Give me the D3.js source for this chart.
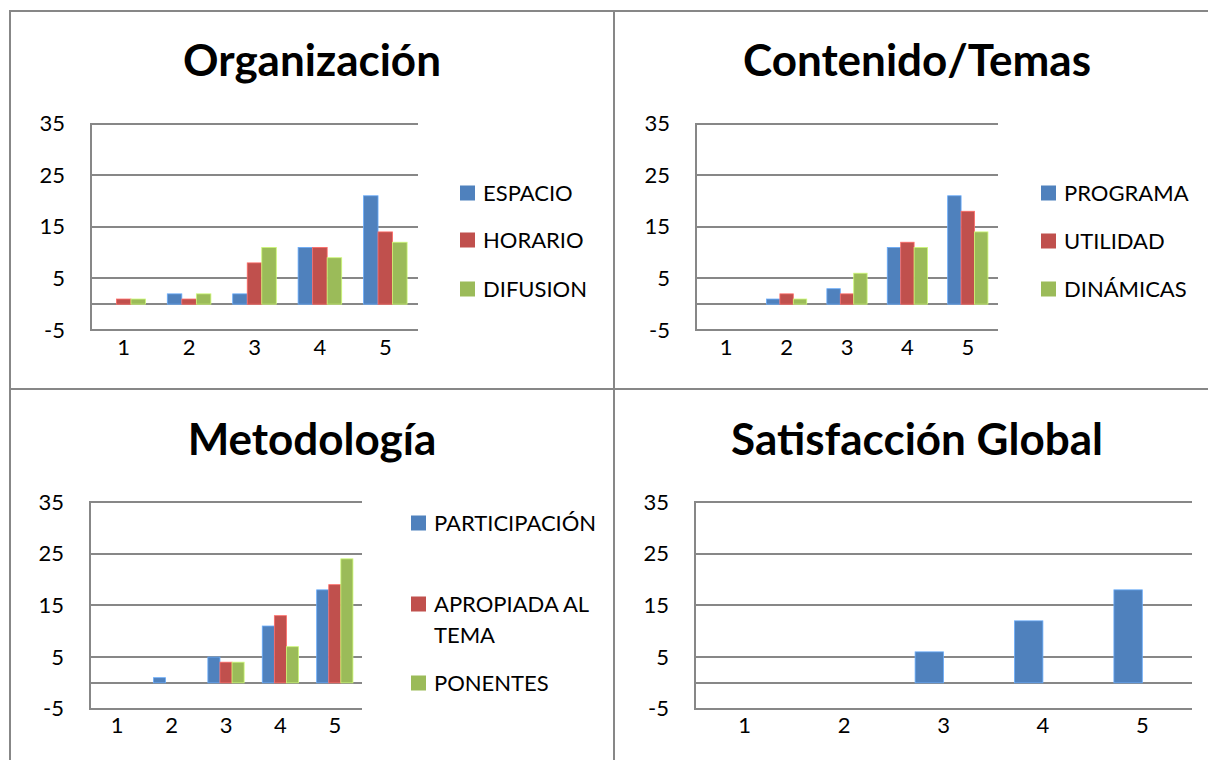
<!DOCTYPE html>
<html>
<head>
<meta charset="utf-8">
<script src="https://cdn.jsdelivr.net/npm/d3@7/dist/d3.min.js"></script>
<style>
  body { margin: 0; background: #fff; }
  svg { display: block; font-family: Lato, "Open Sans", sans-serif; }
</style>
</head>
<body>
<div id="chart"></div>
<script>
// categories and ticks shared by all four charts
var categories = ["1", "2", "3", "4", "5"];
var yTicks = [-5, 5, 15, 25, 35];
var colors = ["#4F81BD", "#C0504D", "#9BBB59"];

// Organización
var orgNames = ["ESPACIO", "HORARIO", "DIFUSION"];
var orgEspacio = [0, 2, 2, 11, 21];
var orgHorario = [1, 1, 8, 11, 14];
var orgDifusion = [1, 2, 11, 9, 12];

// Contenido/Temas
var temNames = ["PROGRAMA", "UTILIDAD", "DINÁMICAS"];
var temPrograma = [0, 1, 3, 11, 21];
var temUtilidad = [0, 2, 2, 12, 18];
var temDinamicas = [0, 1, 6, 11, 14];

// Metodología
var metNames = [["PARTICIPACIÓN"], ["APROPIADA AL", "TEMA"], ["PONENTES"]];
var metParticipacion = [0, 1, 5, 11, 18];
var metApropiada = [0, 0, 4, 13, 19];
var metPonentes = [0, 0, 4, 7, 24];

// Satisfacción Global (second series is empty in the original)
var satGlobal = [0, 0, 6, 12, 18];
var satEmpty = [0, 0, 0, 0, 0];

var W = 1208, H = 760;
var gridColor = "#878787";

var svg = d3.select("#chart").append("svg")
    .attr("width", W)
    .attr("height", H);

// panel frame lines
var frame = svg.append("g").attr("stroke", gridColor).attr("stroke-width", 2);
frame.append("line").attr("x1", 9).attr("x2", W).attr("y1", 11).attr("y2", 11);
frame.append("line").attr("x1", 10).attr("x2", 10).attr("y1", 10).attr("y2", H);
frame.append("line").attr("x1", 614).attr("x2", 614).attr("y1", 10).attr("y2", H);
frame.append("line").attr("x1", 10).attr("x2", W).attr("y1", 389).attr("y2", 389);

function drawPanel(cfg) {
    var g = svg.append("g");

    // title
    g.append("text")
        .attr("x", cfg.titleX)
        .attr("y", cfg.titleY)
        .attr("text-anchor", "middle")
        .attr("font-size", 44)
        .attr("font-weight", "bold")
        .attr("fill", "#000")
        .text(cfg.title);

    var x0 = d3.scaleBand()
        .domain(categories)
        .range([cfg.left, cfg.right])
        .paddingInner(cfg.pad)
        .paddingOuter(cfg.pad / 2);

    var x1 = d3.scaleBand()
        .domain(d3.range(cfg.series.length))
        .range([0, x0.bandwidth()]);

    var y = d3.scaleLinear()
        .domain([-5, 35])
        .range([cfg.bottom, cfg.top]);

    // horizontal gridlines
    g.append("g")
        .selectAll("line")
        .data(yTicks.concat([0]))
        .join("line")
        .attr("x1", cfg.left)
        .attr("x2", cfg.right)
        .attr("y1", function(d) { return Math.round(y(d)); })
        .attr("y2", function(d) { return Math.round(y(d)); })
        .attr("stroke", gridColor)
        .attr("stroke-width", 2);

    // vertical axis line
    g.append("line")
        .attr("x1", cfg.left).attr("x2", cfg.left)
        .attr("y1", Math.round(y(35)) - 1).attr("y2", Math.round(y(-5)) + 1)
        .attr("stroke", gridColor)
        .attr("stroke-width", 2);

    // y tick labels
    var yAxis = d3.axisLeft(y).tickValues(yTicks).tickSize(0).tickPadding(26)
        .tickFormat(function(d) { return String(d); });
    var ya = g.append("g")
        .attr("transform", "translate(" + cfg.left + ",0)")
        .call(yAxis);
    ya.select(".domain").remove();
    ya.selectAll("text")
        .attr("font-size", 22)
        .attr("font-family", "Lato, sans-serif")
        .attr("fill", "#000");

    // x tick labels
    var xAxis = d3.axisBottom(x0).tickSize(0).tickPadding(9);
    var xa = g.append("g")
        .attr("transform", "translate(0," + y(-5) + ")")
        .call(xAxis);
    xa.select(".domain").remove();
    xa.selectAll("text")
        .attr("font-size", 22)
        .attr("font-family", "Lato, sans-serif")
        .attr("fill", "#000");

    // bars
    cfg.series.forEach(function(vals, s) {
        var pts = vals.map(function(v, i) { return { v: v, cat: categories[i] }; })
            .filter(function(d) { return d.v > 0; });
        g.append("g")
            .selectAll("rect")
            .data(pts)
            .join("rect")
            .attr("x", function(d) { return x0(d.cat) + x1(s); })
            .attr("width", x1.bandwidth())
            .attr("y", function(d) { return y(d.v); })
            .attr("height", function(d) { return y(0) - y(d.v); })
            .attr("fill", colors[s])
            .attr("stroke", d3.color(colors[s]).brighter(0.8))
            .attr("stroke-width", 0.8);
    });

    // legend
    if (cfg.legend) {
        var lg = g.append("g");
        cfg.legend.forEach(function(lines, i) {
            var ly = cfg.legendY[i];
            lg.append("rect")
                .attr("x", cfg.legendX)
                .attr("y", ly - 7.5)
                .attr("width", 15)
                .attr("height", 15)
                .attr("fill", colors[i]);
            var t = lg.append("text")
                .attr("x", cfg.legendX + 23)
                .attr("y", ly + 8)
                .attr("font-size", 22)
                .attr("fill", "#000");
            [].concat(lines).forEach(function(line, k) {
                t.append("tspan")
                    .attr("x", cfg.legendX + 23)
                    .attr("dy", k === 0 ? 0 : 31)
                    .text(line);
            });
        });
    }
}

drawPanel({
    title: "Organización", titleX: 312, titleY: 76,
    left: 91, right: 418, top: 123.5, bottom: 330, pad: 1.5 / 4.5,
    series: [orgEspacio, orgHorario, orgDifusion],
    legend: orgNames, legendX: 460, legendY: [193, 240, 289]
});

drawPanel({
    title: "Contenido/Temas", titleX: 917, titleY: 76,
    left: 696, right: 998, top: 123.5, bottom: 330, pad: 1.5 / 4.5,
    series: [temPrograma, temUtilidad, temDinamicas],
    legend: temNames, legendX: 1041, legendY: [193, 241, 289]
});

drawPanel({
    title: "Metodología", titleX: 312, titleY: 455,
    left: 90, right: 362, top: 502, bottom: 708.7, pad: 1.5 / 4.5,
    series: [metParticipacion, metApropiada, metPonentes],
    legend: metNames, legendX: 411, legendY: [523, 604, 683]
});

drawPanel({
    title: "Satisfacción Global", titleX: 917, titleY: 455,
    left: 695, right: 1192, top: 502, bottom: 708.7, pad: 1.5 / 3.5,
    series: [satGlobal, satEmpty]
});
</script>
</body>
</html>
